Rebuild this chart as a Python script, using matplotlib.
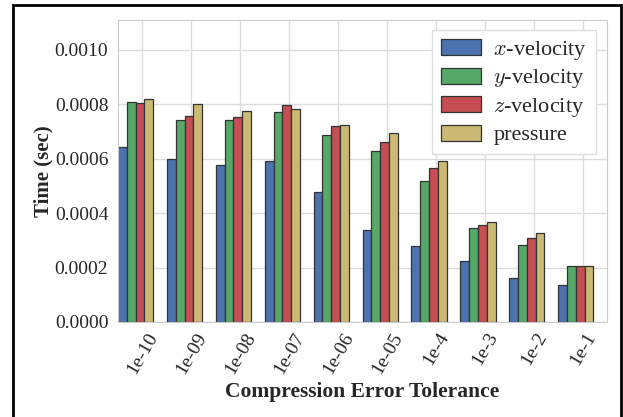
import matplotlib
matplotlib.use('Agg')
import matplotlib.pyplot as plt
from matplotlib.ticker import FormatStrFormatter
from matplotlib.patches import Rectangle
import seaborn as sns
import numpy as np

# tolerances and timings per field
tolerances = ['1e-10', '1e-09', '1e-08', '1e-07', '1e-06', '1e-05', '1e-4', '1e-3', '1e-2', '1e-1']
x_vel = [0.000644, 0.000598, 0.000578, 0.000593, 0.000479, 0.000338, 0.000279, 0.000224, 0.000162, 0.000137]
y_vel = [0.000809, 0.000741, 0.000744, 0.000770, 0.000686, 0.000629, 0.000518, 0.000344, 0.000282, 0.000206]
z_vel = [0.000806, 0.000756, 0.000755, 0.000799, 0.000721, 0.000662, 0.000566, 0.000358, 0.000307, 0.000207]
pressure = [0.000820, 0.000803, 0.000777, 0.000783, 0.000724, 0.000696, 0.000592, 0.000369, 0.000327, 0.000207]

series = [x_vel, y_vel, z_vel, pressure]
labels = ['$x$-velocity', '$y$-velocity', '$z$-velocity', 'pressure']
colors = ['#4C72B0', '#55A868', '#C44E52', '#CCB974']

sns.set_style('whitegrid')
plt.rcParams['font.family'] = ['Liberation Serif', 'DejaVu Serif']
plt.rcParams['mathtext.fontset'] = 'cm'

fig = plt.figure(figsize=(6.23, 4.17), dpi=100)
ax = fig.add_axes([0.1894, 0.228, 0.785, 0.724])

ind = np.arange(len(tolerances))
width = 0.18
for k, (vals, lab, col) in enumerate(zip(series, labels, colors)):
    ax.bar(ind + k * width, vals, width, align='edge', color=col,
           edgecolor='#333333', linewidth=0.9, label=lab, zorder=2)

ax.set_xlim(0, len(tolerances))
ax.set_ylim(0, 0.00111)
ax.set_xticks(ind + 0.5)
ax.set_xticklabels(tolerances, rotation=60, fontsize=14)
ax.set_yticks(np.arange(0, 0.0011, 0.0002))
ax.yaxis.set_major_formatter(FormatStrFormatter('%.4f'))
ax.tick_params(axis='y', labelsize=14)
ax.tick_params(axis='x', pad=2)
ax.set_axisbelow(True)
ax.grid(True, color='#dcdcdc', linewidth=1)
for s in ax.spines.values():
    s.set_color('#cccccc')

ax.set_xlabel('Compression Error Tolerance', fontsize=15.5, fontweight='bold', labelpad=4)
ax.set_ylabel('Time (sec)', fontsize=15, fontweight='bold', labelpad=0.5)

leg = ax.legend(loc='upper right', fontsize=16, frameon=True, framealpha=1,
                fancybox=False, handlelength=1.8, handleheight=0.75,
                handletextpad=0.55, borderpad=0.4, labelspacing=0.25,
                borderaxespad=0, bbox_to_anchor=(0.9775, 0.967))
leg.get_frame().set_edgecolor('#dddddd')

# black frame round the figure (bottom edge runs off the canvas)
fig.patches.append(Rectangle((13.5 / 623, -0.05), (621 - 13.5) / 623, 1.05 - 4.5 / 417,
                             transform=fig.transFigure, fill=False,
                             edgecolor='black', linewidth=2))

fig.savefig('out.png', dpi=100)
